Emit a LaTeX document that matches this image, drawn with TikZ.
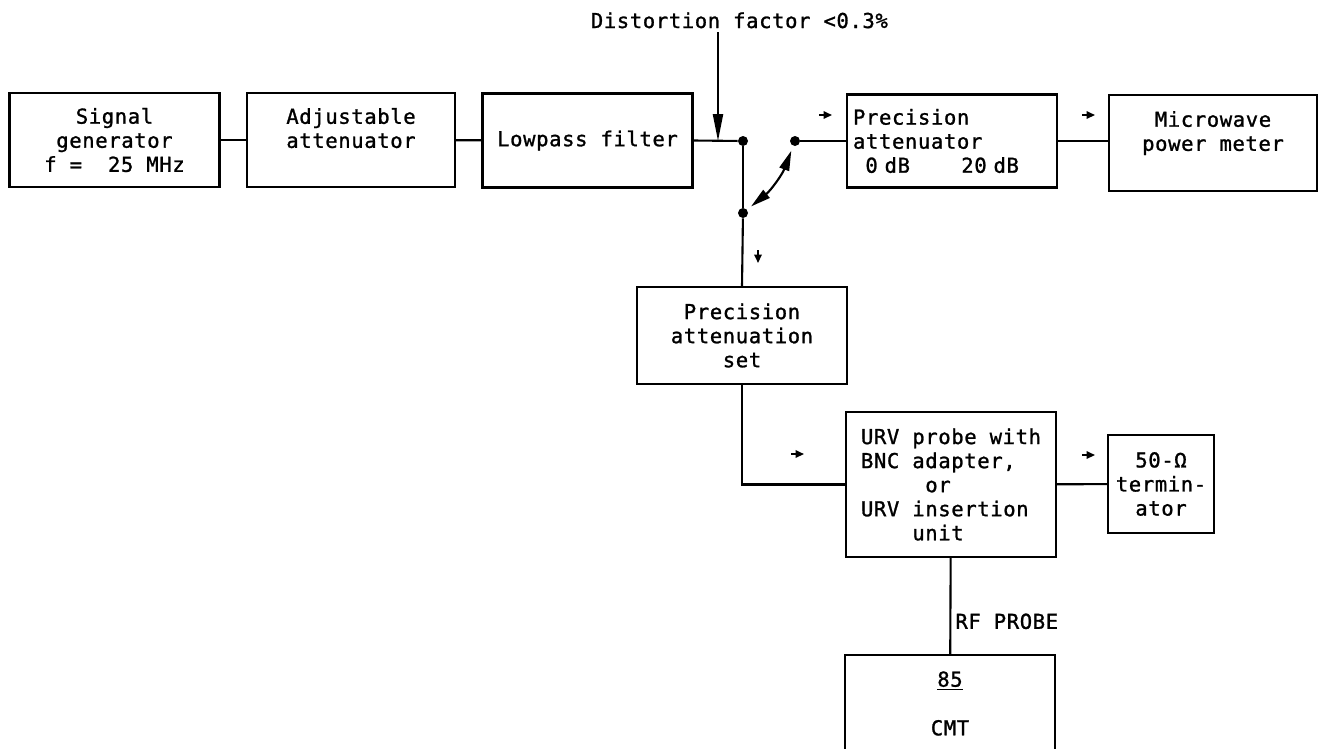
\documentclass[tikz,border=0pt]{standalone}
\usepackage{fontspec}
\setmainfont{DejaVu Sans Mono}[LetterSpace=3, FakeBold=1.2]
\newcommand{\plotfont}{\fontsize{11.7pt}{13.7pt}\selectfont}
\usetikzlibrary{arrows.meta, positioning}

\begin{document}
\begin{tikzpicture}[x=0.02cm, y=-0.02cm,
        base/.style={draw, rectangle, line width=1.2pt, align=center, font=\plotfont, inner sep=2pt},
        block/.style={base, minimum width=4.2cm, minimum height=1.88cm},
        wire/.style={line width=1.2pt},
        dot/.style={circle, fill, inner sep=0pt, minimum size=2mm},
        markarrow/.style={line width=1.1pt, -{Triangle[length=1.7mm, width=1.5mm]}},
        label/.style={font=\plotfont, inner sep=0.08cm},
        bigtip/.style={-{Triangle[length=0.54cm, width=0.2cm]}},
        swtip/.style={{Triangle[length=0.4cm, width=0.2cm]}-{Triangle[length=0.4cm, width=0.2cm]}}
    ]
    \useasboundingbox[fill=white] (0,0) rectangle (1318,748);
    \clip (0,0) rectangle (1318,748);

    % Top row
    \node[block] (sig) at (114.5,140) {Signal\\generator\\f =~~25 MHz};
    \node[block, minimum width=4.16cm] (adj) at (351,140) {Adjustable\\attenuator\\~};
    \node[block] (lpf) at (587.5,140.5) {Lowpass filter};
    \node[block, minimum height=1.86cm, text width=3.96cm, align=left] (patt) at (952,141) {Precision\\attenuator\\\phantom{0}0 dB\phantom{0000}20 dB};
    \node[block, minimum width=4.16cm, minimum height=1.92cm] (mw) at (1213,143) {Microwave\\power meter\\~};

    % Distortion note
    \node[label, anchor=base west, inner sep=2pt] (dist) at (587,28) {Distortion factor <0.3\%};
    \coordinate (tap) at (718,141);

    % Switch
    \node[dot] (j1) at (743,141) {};
    \node[dot] (s2) at (795,141) {};
    \node[dot] (s3) at (743,213) {};

    % Lower branch
    \node[block, minimum height=1.94cm] (pas) at (742,335.5) {Precision\\attenuation\\set};
    \node[block, minimum height=2.9cm, align=left] (urv) at (951,484.5) {URV probe with\\BNC adapter,\\\phantom{00000}or\\URV insertion\\\phantom{0000}unit};
    \node[block, minimum width=2.12cm, minimum height=1.96cm] (term) at (1161,484) {50-Ω\\termin-\\ator};
    \node[block, minimum height=1.94cm] (cmt) at (950,703.5) {\underline{85}\\[14pt]CMT};

    % Direction marks
    \coordinate (m1) at (819,115);
    \coordinate (m2) at (1082,115);
    \coordinate (m3) at (758,250);
    \coordinate (m4) at (791,454);
    \coordinate (m5) at (1082,455);
    \draw[markarrow] (m1) -- ++(13,0);
    \draw[markarrow] (m2) -- ++(13,0);
    \draw[markarrow] (m3) -- ++(0,13);
    \draw[markarrow] (m4) -- ++(13,0);
    \draw[markarrow] (m5) -- ++(13,0);

    % Connections
    \draw[wire] (sig) -- (adj);
    \draw[wire] (adj) -- (lpf);
    \draw[wire] (lpf.east) -- (j1);
    \draw[wire, bigtip] (dist.south -| tap) -- (tap);
    \draw[wire] (j1) -- (s3);
    \draw[wire] (s3) -- (pas.north);
    \draw[wire, swtip, shorten <=1mm, shorten >=1mm] (s3) to[bend right=15] (s2);
    \draw[wire] (s2) -- (s2 -| patt.west);
    \draw[wire] (patt.east) -- (patt.east -| mw.west);
    \draw[wire] (pas.south) |- (urv.west);
    \draw[wire] (urv) -- (term);
    \draw[wire] (urv) -- node[pos=0.66, right, label] {RF PROBE} (cmt);
\end{tikzpicture}
\end{document}
